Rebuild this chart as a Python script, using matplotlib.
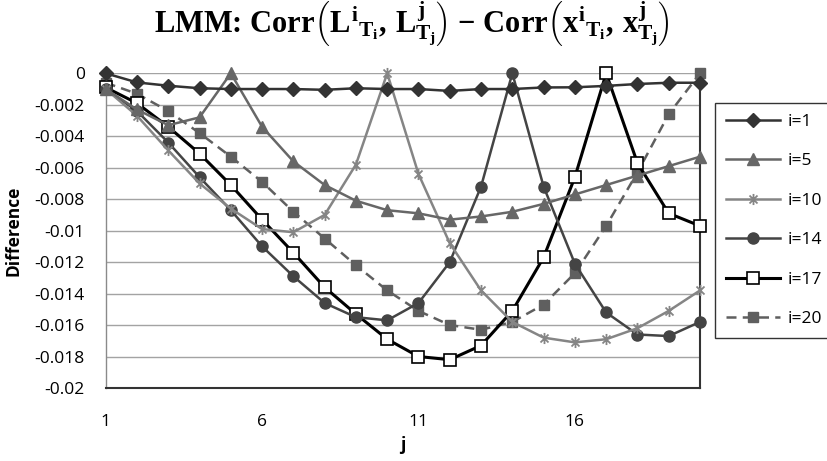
import numpy as np
import matplotlib
matplotlib.use("Agg")
import matplotlib.pyplot as plt
from matplotlib.path import Path

# ---- data ---------------------------------------------------------------
j_values = list(range(1, 21))
x_tick_values = [1, 6, 11, 16]
y_tick_values = [-0.02, -0.018, -0.016, -0.014, -0.012, -0.01, -0.008,
                 -0.006, -0.004, -0.002, 0]
y_tick_labels = ["-0.02", "-0.018", "-0.016", "-0.014", "-0.012", "-0.01",
                 "-0.008", "-0.006", "-0.004", "-0.002", "0"]

series_labels = ["i=1", "i=5", "i=10", "i=14", "i=17", "i=20"]

diff_i1 = [0, -0.00058, -0.00079, -0.00095, -0.001, -0.001, -0.001, -0.00105,
           -0.00095, -0.001, -0.001, -0.00112, -0.001, -0.001, -0.0009,
           -0.00089, -0.0008, -0.00068, -0.0006, -0.0006]
diff_i5 = [-0.001, -0.0023, -0.0033, -0.0028, 0, -0.0034, -0.0056, -0.0071,
           -0.0081, -0.0087, -0.0089, -0.0093, -0.0091, -0.0088, -0.0083,
           -0.0077, -0.0071, -0.0065, -0.0059, -0.0053]
diff_i10 = [-0.001, -0.0027, -0.0049, -0.007, -0.0086, -0.0099, -0.0101,
            -0.009, -0.0058, 0, -0.0064, -0.0108, -0.0138, -0.0158, -0.0168,
            -0.0171, -0.0169, -0.0162, -0.0151, -0.0138]
diff_i14 = [-0.001, -0.0024, -0.0044, -0.0066, -0.0087, -0.011, -0.0129,
            -0.0146, -0.0155, -0.0157, -0.0146, -0.012, -0.0072, 0, -0.0072,
            -0.0121, -0.0152, -0.0166, -0.0167, -0.0158]
diff_i17 = [-0.0009, -0.0019, -0.0034, -0.0051, -0.0071, -0.0093, -0.0114,
            -0.0136, -0.0153, -0.0169, -0.018, -0.0182, -0.0173, -0.0151,
            -0.0117, -0.0066, 0, -0.0057, -0.0089, -0.0097]
diff_i20 = [-0.0006, -0.0013, -0.0024, -0.0038, -0.0053, -0.0069, -0.0088,
            -0.0105, -0.0122, -0.0138, -0.0151, -0.016, -0.0163, -0.0158,
            -0.0147, -0.0127, -0.0097, -0.0063, -0.0026, 0]

# ---- styling ------------------------------------------------------------
plt.rcParams["font.family"] = ["Open Sans", "DejaVu Sans"]
plt.rcParams["mathtext.fontset"] = "custom"
plt.rcParams["mathtext.rm"] = "Liberation Serif:bold"
plt.rcParams["mathtext.it"] = "Liberation Serif:bold"
plt.rcParams["mathtext.bf"] = "Liberation Serif:bold"

# Excel-like "star" marker: a vertical stroke plus an X
star = Path([(0, -1), (0, 1), (-0.72, -0.72), (0.72, 0.72),
             (-0.72, 0.72), (0.72, -0.72)],
            [Path.MOVETO, Path.LINETO, Path.MOVETO, Path.LINETO,
             Path.MOVETO, Path.LINETO])

styles = [
    dict(color="#333333", marker="D", ms=7.5, mfc="#333333", mec="#333333", lw=1.8),
    dict(color="#676767", marker="^", ms=8.5, mfc="#676767", mec="#676767", lw=1.8),
    dict(color="#858585", marker=star, ms=8, mfc="none", mec="#858585", mew=1.3, lw=1.8),
    dict(color="#444444", marker="o", ms=8, mfc="#444444", mec="#444444", lw=1.8),
    dict(color="#000000", marker="s", ms=8, mfc="white", mec="#000000", mew=1.2, lw=2.2),
    dict(color="#5f5f5f", marker="s", ms=7.5, mfc="#5f5f5f", mec="#5f5f5f", lw=1.8,
         dashes=(4, 2.5)),
]
all_series = [diff_i1, diff_i5, diff_i10, diff_i14, diff_i17, diff_i20]

fig = plt.figure(figsize=(8.27, 4.61), dpi=100)
ax = fig.add_axes([105.7 / 827, 1 - 388 / 461, (700 - 105.7) / 827, (388 - 73.3) / 461])

handles = []
n = len(all_series)
for k, (vals, lab, st) in enumerate(zip(all_series, series_labels, styles)):
    h, = ax.plot(j_values, vals, label=lab, clip_on=False, zorder=10 + (n - k), **st)
    handles.append(h)

ax.set_xlim(1, 20)
ax.set_ylim(-0.02, 0)
ax.set_xticks(x_tick_values)
ax.set_xticklabels([str(v) for v in x_tick_values])
ax.set_yticks(y_tick_values)
ax.set_yticklabels(y_tick_labels)
ax.tick_params(axis="both", length=0, labelsize=12.5, colors="#000000")
ax.tick_params(axis="x", pad=19)
ax.tick_params(axis="y", pad=15)
ax.yaxis.grid(True, color="#a3a3a3", lw=1.0, zorder=0)
ax.set_axisbelow(True)

ax.spines["left"].set_color("#8a8a8a")
ax.spines["left"].set_linewidth(1.0)
ax.spines["top"].set_visible(False)
for side in ("bottom", "right"):
    ax.spines[side].set_color("#333333")
    ax.spines[side].set_linewidth(1.5)

fig.text(402.9 / 827, 1 - 445 / 461, "j", ha="center", va="center",
         fontsize=12.5, fontweight="bold")
fig.text(14 / 827, 1 - 230.7 / 461, "Difference", ha="center", va="center",
         rotation=90, fontsize=12.5, fontweight="bold")

title = (r"LMM: Corr$\left(L^{i}{}_{T_{i}},\,L^{j}_{T_{j}}\right)$"
         r" $-$ Corr$\left(x^{i}{}_{T_{i}},\,x^{j}_{T_{j}}\right)$")
fig.text(412 / 827, 1 - 24 / 461, title, ha="center", va="center",
         fontsize=22, fontweight="bold", family=["Liberation Serif", "DejaVu Serif"])

leg = fig.legend(handles=handles, labels=series_labels, loc="upper left",
                 bbox_to_anchor=(715 / 827, 1 - 103 / 461), frameon=True,
                 fancybox=False, edgecolor="#000000", fontsize=12.5,
                 handlelength=3.1, handletextpad=0.45, borderpad=0.62,
                 labelspacing=1.34, borderaxespad=0)
leg.get_frame().set_linewidth(1.0)

fig.savefig("out.png", dpi=100)
